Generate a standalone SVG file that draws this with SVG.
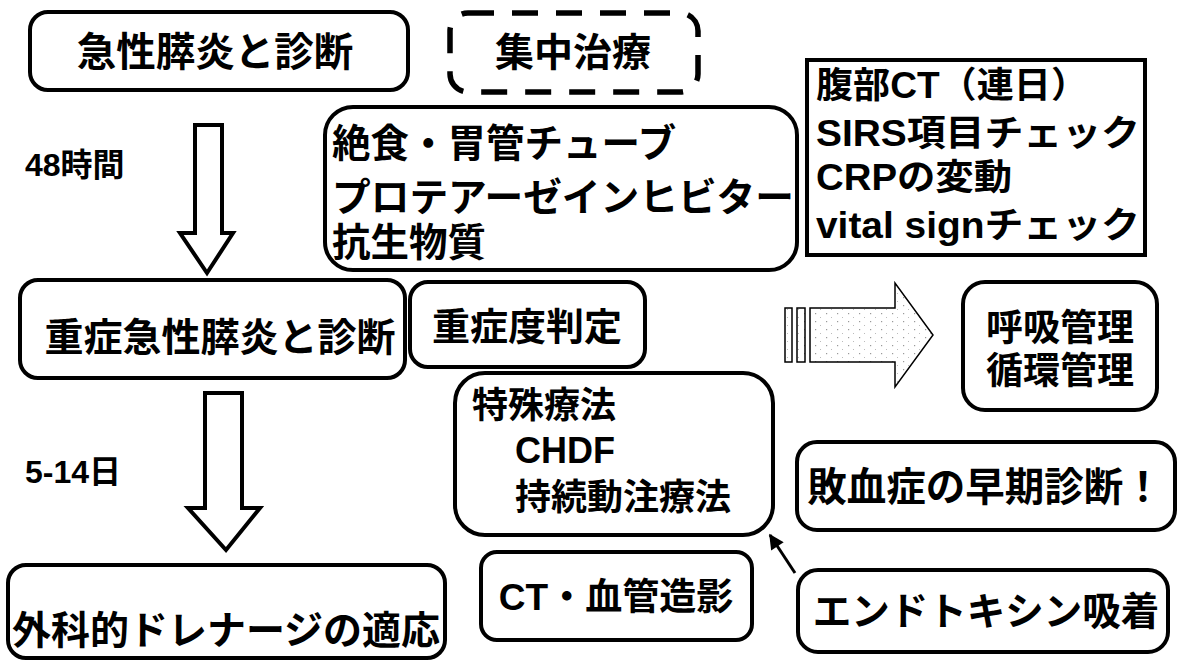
<svg xmlns="http://www.w3.org/2000/svg" width="1187" height="661" viewBox="0 0 1187 661">
<style>
.box{fill:#fff;stroke:#000;stroke-width:4}
.dash{fill:#fff;stroke:#000;stroke-width:5.5;stroke-dasharray:26 18}
.t{font-family:"Liberation Sans","Noto Sans CJK JP",sans-serif;font-weight:bold;fill:#000}
.arr{fill:#fff;stroke:#000;stroke-width:4;stroke-linejoin:miter}
</style>
<defs>
<pattern id="dots" width="11" height="8" patternUnits="userSpaceOnUse">
<rect width="11" height="8" fill="#fff"/>
<rect x="1" y="1" width="1.2" height="1.2" fill="#999"/>
<rect x="6" y="5" width="1" height="1" fill="#bbb"/>
</pattern>
<marker id="ah" viewBox="0 0 10 10" refX="9" refY="5" markerWidth="6" markerHeight="5" orient="auto">
<path d="M0,0 L10,5 L0,10 z" fill="#000"/>
</marker>
</defs>
<rect width="1187" height="661" fill="#fff"/>

<g id="connectors">
<path class="arr" d="M195,125 H222 V233 H233 L207,273 L180,233 H195 Z"/>
<path class="arr" d="M205,393 H242 V508 H260 L226,550 L188,508 H205 Z"/>
<g id="striped-arrow">
<rect x="785" y="308" width="7" height="54" fill="url(#dots)" stroke="#000" stroke-width="1.5"/>
<rect x="797" y="308" width="8" height="54" fill="url(#dots)" stroke="#000" stroke-width="1.5"/>
<path d="M810,308 H895 V283 L933,335 L895,387 V362 H810 Z" fill="url(#dots)" stroke="#000" stroke-width="1.5"/>
</g>
<line x1="795" y1="573" x2="770" y2="535" stroke="#000" stroke-width="3" marker-end="url(#ah)"/>
</g>

<g id="label-48h"><text class="t" x="25" y="176" font-size="32">48時間</text></g>
<g id="label-5-14"><text class="t" x="25" y="483" font-size="32">5-14日</text></g>

<g id="n1"><rect class="box" x="30" y="12" width="378" height="78" rx="18"/>
<text class="t" x="215" y="66" font-size="39.5" text-anchor="middle">急性膵炎と診断</text></g>

<g id="n2"><rect class="dash" x="450" y="13" width="248" height="79" rx="18"/>
<text class="t" x="573" y="66" font-size="39" text-anchor="middle">集中治療</text></g>

<g id="n3"><rect class="box" x="325" y="107" width="472" height="163" rx="28"/>
<text class="t" x="332" y="157" font-size="38.5">絶食・胃管チューブ</text>
<text class="t" x="332" y="211" font-size="38.5" textLength="462" lengthAdjust="spacingAndGlyphs">プロテアーゼインヒビター</text>
<text class="t" x="332" y="256" font-size="38.5">抗生物質</text></g>

<g id="n4"><rect class="box" x="807" y="60" width="338" height="195"/>
<text class="t" x="816" y="98" font-size="36" textLength="272" lengthAdjust="spacingAndGlyphs">腹部CT（連日）</text>
<text class="t" x="816" y="146" font-size="36" textLength="324" lengthAdjust="spacingAndGlyphs">SIRS項目チェック</text>
<text class="t" x="816" y="190" font-size="36" textLength="196" lengthAdjust="spacingAndGlyphs">CRPの変動</text>
<text class="t" x="816" y="238" font-size="36" textLength="324" lengthAdjust="spacingAndGlyphs">vital signチェック</text></g>

<g id="n5"><rect class="box" x="20" y="280" width="385" height="98" rx="18"/>
<text class="t" x="220" y="351" font-size="39" text-anchor="middle">重症急性膵炎と診断</text></g>

<g id="n6"><rect class="box" x="410" y="282" width="235" height="85" rx="18"/>
<text class="t" x="527" y="340" font-size="38" text-anchor="middle">重症度判定</text></g>

<g id="n7"><rect class="box" x="963" y="282" width="194" height="128" rx="22"/>
<text class="t" x="1060" y="341" font-size="37" text-anchor="middle">呼吸管理</text>
<text class="t" x="1060" y="384" font-size="37" text-anchor="middle">循環管理</text></g>

<g id="n8"><rect class="box" x="455" y="373" width="318" height="162" rx="30"/>
<text class="t" x="472" y="418" font-size="36">特殊療法</text>
<text class="t" x="515" y="463" font-size="36">CHDF</text>
<text class="t" x="515" y="510" font-size="36">持続動注療法</text></g>

<g id="n9"><rect class="box" x="797" y="442" width="378" height="88" rx="20"/>
<text class="t" x="985" y="501" font-size="39.5" text-anchor="middle">敗血症の早期診断！</text></g>

<g id="n10"><rect class="box" x="481" y="552" width="271" height="88" rx="16"/>
<text class="t" x="616" y="610" font-size="37" text-anchor="middle">CT・血管造影</text></g>

<g id="n11"><rect class="box" x="798" y="570" width="370" height="82" rx="20"/>
<text class="t" x="986" y="625" font-size="38.5" text-anchor="middle">エンドトキシン吸着</text></g>

<g id="n12"><rect class="box" x="8" y="565" width="437" height="93" rx="18"/>
<text class="t" x="226" y="644" font-size="39" text-anchor="middle">外科的ドレナージの適応</text></g>
</svg>
